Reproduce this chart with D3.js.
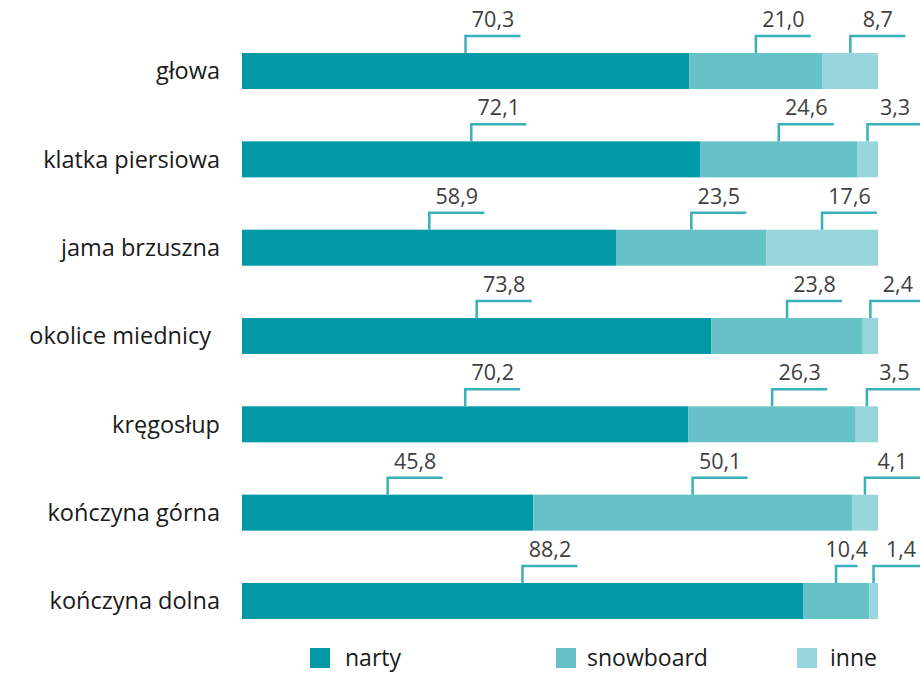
<!DOCTYPE html>
<html>
<head>
<meta charset="utf-8">
<script src="https://cdn.jsdelivr.net/npm/d3@7"></script>
<style>
  body { margin: 0; background: #fff; }
  text { font-family: "Open Sans", "Noto Sans", sans-serif; }
</style>
</head>
<body>
<div id="chart"></div>
<script>
const categories = ["głowa", "klatka piersiowa", "jama brzuszna", "okolice miednicy", "kręgosłup", "kończyna górna", "kończyna dolna"];
const series = ["narty", "snowboard", "inne"];
const narty = [70.3, 72.1, 58.9, 73.8, 70.2, 45.8, 88.2];
const snowboard = [21.0, 24.6, 23.5, 23.8, 26.3, 50.1, 10.4];
const inne = [8.7, 3.3, 17.6, 2.4, 3.5, 4.1, 1.4];
const colors = ["#0099a5", "#66c2c8", "#99d5dc"];

const width = 920, height = 675;

const svg = d3.select("#chart").append("svg")
    .attr("width", width)
    .attr("height", height);

const rows = categories.map((c, i) => ({cat: c, narty: narty[i], snowboard: snowboard[i], inne: inne[i]}));
const stacked = d3.stack().keys(series)(rows);

const x = d3.scaleLinear().domain([0, 100]).range([242, 878]);
const y = d3.scaleBand().domain(categories).range([0.7, 671.3]).padding(0.5925);
const color = d3.scaleOrdinal().domain(series).range(colors);

// bars
svg.append("g").selectAll("g")
    .data(stacked)
    .enter().append("g")
    .attr("fill", d => color(d.key))
    .selectAll("rect")
    .data(d => d)
    .enter().append("rect")
    .attr("x", d => x(d[0]))
    .attr("y", d => y(d.data.cat))
    .attr("width", d => x(d[1]) - x(d[0]))
    .attr("height", y.bandwidth());

// category labels
svg.append("g").selectAll("text")
    .data(categories)
    .enter().append("text")
    .attr("x", d => d === "okolice miednicy" ? 211 : 220)
    .attr("y", d => y(d) + y.bandwidth() / 2)
    .attr("dy", "0.35em")
    .attr("text-anchor", "end")
    .attr("font-size", 23.5)
    .attr("fill", "#1a1a1a")
    .text(d => d);

// value callouts
const lineLen = 55, rise = 17;
const callouts = [];
categories.forEach((c, i) => {
    const segs = stacked.map(s => s[i]);
    const mids = segs.map(d => (x(d[0]) + x(d[1])) / 2);
    segs.forEach((d, j) => {
        let len = lineLen;
        if (j < segs.length - 1) len = Math.min(lineLen, mids[j + 1] - mids[j] - 16);
        callouts.push({cat: c, v: d[1] - d[0], mid: mids[j], len: len});
    });
});
const fmt = v => d3.format(".1f")(v).replace(".", ",");

const cg = svg.append("g").selectAll("g")
    .data(callouts)
    .enter().append("g");

cg.append("path")
    .attr("fill", "none")
    .attr("stroke", "#3ab0ba")
    .attr("stroke-width", 2.5)
    .attr("d", d => {
        const top = y(d.cat);
        return `M${d.mid},${top}V${top - rise}H${d.mid + d.len}`;
    });

cg.append("text")
    .attr("x", d => d.mid + d.len / 2)
    .attr("y", d => y(d.cat) - rise - 9)
    .attr("text-anchor", "middle")
    .attr("font-size", 21.5)
    .attr("fill", "#404040")
    .text(d => fmt(d.v));

// legend
const legendX = [310, 556, 797];
const lg = svg.append("g").selectAll("g")
    .data(series)
    .enter().append("g")
    .attr("transform", (d, i) => `translate(${legendX[i]},648)`);

lg.append("rect")
    .attr("width", 20)
    .attr("height", 20)
    .attr("fill", d => color(d));

lg.append("text")
    .attr("x", d => d === "inne" ? 33 : (d === "narty" ? 35 : 31))
    .attr("y", 18)
    .attr("font-size", 23)
    .attr("fill", "#1a1a1a")
    .text(d => d);
</script>
</body>
</html>
